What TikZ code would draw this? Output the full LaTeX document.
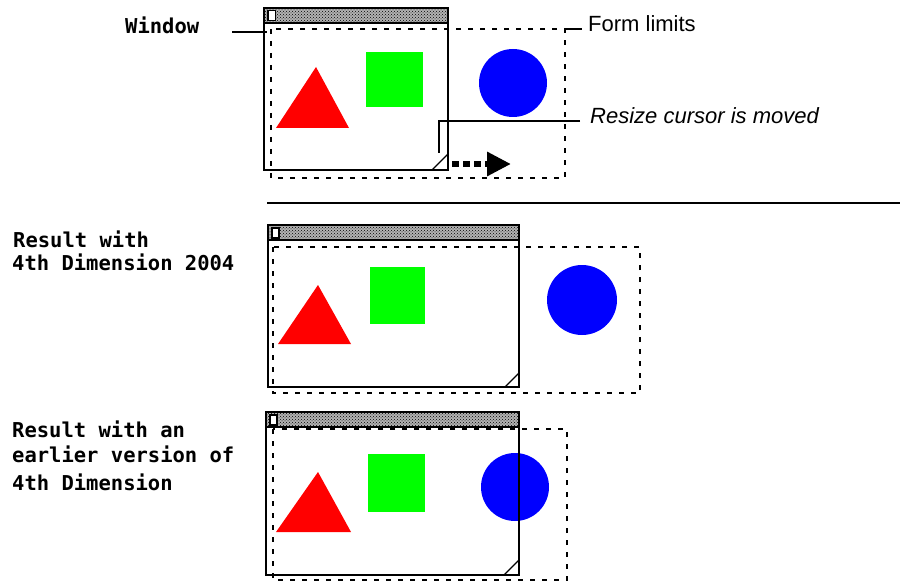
\documentclass[tikz,border=0pt]{standalone}
\usepackage{fontspec}
\setmainfont{Liberation Sans}
\newfontfamily\lblfont{DejaVu Sans Mono}
\usetikzlibrary{patterns,arrows.meta}
\tikzset{
  frame/.style={draw=black, line width=2.2pt},
  formlim/.style={draw=black, line width=2.2pt, dash pattern=on 5pt off 7pt},
  titlebar/.style={draw=black, line width=2.2pt, fill=black!30, postaction={pattern=crosshatch dots, pattern color=black}},
  closebox/.style={draw=black, line width=1.2pt, fill=white},
  growline/.style={draw=black, line width=1.2pt},
  tri/.style={fill=red},
  sq/.style={fill=green},
  circ/.style={fill=blue},
  lbl/.style={font=\lblfont\bfseries\fontsize{20.5}{23}\selectfont, anchor=base west, inner sep=0pt},
  note/.style={font=\fontsize{22}{26}\selectfont, anchor=base west, inner sep=0pt},
  callout/.style={draw=black, line width=1.2pt},
  sep/.style={draw=black, line width=1.4pt},
  movearrow/.style={draw=black, line width=6pt, dash pattern=on 7pt off 4pt, -{Triangle[length=24pt,width=23pt]}}
}
\begin{document}
\begin{tikzpicture}[x=1pt,y=-1pt]
\useasboundingbox (0,0) rectangle (900,583);

% ---------- Panel 1 ----------
\draw[formlim] (271,29) rectangle (565,178);
\fill[tri] (316,67) -- (276,128) -- (349,128) -- cycle;
\fill[sq] (366,52) rectangle (423,107);
\fill[circ] (513,83) circle (34);
\draw[frame] (264,8) rectangle (448,170);
\draw[titlebar] (264,8) rectangle (448,23);
\draw[closebox] (268,10.5) rectangle (275.5,20.5);
\draw[growline] (432,170) -- (448,154);
\node[lbl] (winlbl) at (125,34) {Window};
\coordinate (winA) at (232,32);
\coordinate (winB) at (267,32);
\draw[callout] (winA) -- (winB);
\node[note] (formlbl) at (588,32) {Form limits};
\coordinate (formA) at (565,29);
\coordinate (formB) at (582,29);
\draw[callout] (formA) -- (formB);
\node[note, font=\itshape\fontsize{22}{26}\selectfont] (rzlbl) at (590,124) {Resize cursor is moved};
\coordinate (rzA) at (580,121);
\coordinate (rzB) at (439,153);
\draw[callout] (rzA) -| (rzB);
\coordinate (arS) at (452,164);
\coordinate (arE) at (511,164);
\draw[movearrow] (arS) -- (arE);

% separator
\coordinate (sepA) at (267,203);
\coordinate (sepB) at (900,203);
\draw[sep] (sepA) -- (sepB);

% ---------- Panel 2 ----------
\draw[formlim] (273,247) rectangle (640,393);
\fill[tri] (318,285) -- (278,344) -- (351,344) -- cycle;
\fill[sq] (370,267) rectangle (425,324);
\fill[circ] (582,300) circle (35);
\draw[frame] (268,225) rectangle (519,387);
\draw[titlebar] (268,225) rectangle (519,240);
\draw[closebox] (272,228) rectangle (279,238);
\draw[growline] (505,387) -- (519,373);
\node[lbl] (r2a) at (13,247) {Result with};
\node[lbl] (r2b) at (12,270) {4th Dimension 2004};

% ---------- Panel 3 ----------
\draw[formlim] (273,429) rectangle (567,580);
\fill[tri] (318,472) -- (276,532) -- (351,532) -- cycle;
\fill[sq] (368,454) rectangle (425,512);
\fill[circ] (515,487) circle (34);
\draw[frame] (266,412) rectangle (519,575);
\draw[titlebar] (266,412) rectangle (519,427);
\draw[closebox] (270,415) rectangle (277,425);
\draw[growline] (504,575) -- (519,560);
\node[lbl] (r3a) at (12,437) {Result with an};
\node[lbl] (r3b) at (12,462) {earlier version of};
\node[lbl] (r3c) at (12,490) {4th Dimension};
\end{tikzpicture}
\end{document}
